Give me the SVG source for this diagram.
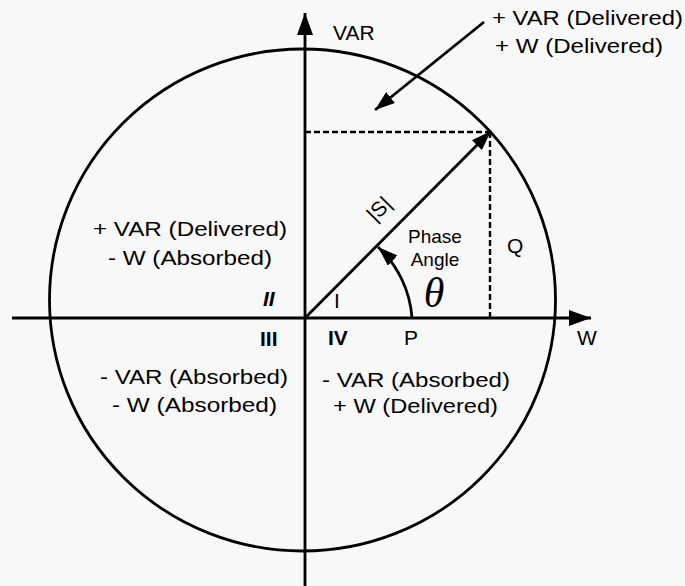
<svg xmlns="http://www.w3.org/2000/svg" width="685" height="586" viewBox="0 0 685 586">
<style>
.ln{stroke:#000;stroke-width:2.8;fill:none}
.dash{stroke:#000;stroke-width:2.4;fill:none;stroke-dasharray:6 3}
.t{font-family:"Liberation Sans",Arial,sans-serif;font-size:21px;fill:#000}
.s{font-size:19px}
.b{font-weight:bold}
</style>
<defs>
<marker id="ah" markerUnits="userSpaceOnUse" markerWidth="24" markerHeight="16" refX="22" refY="8" orient="auto">
<path d="M0,0 L22,8 L0,16 Z" fill="#000"/>
</marker>
<marker id="ahs" markerUnits="userSpaceOnUse" markerWidth="22" markerHeight="14" refX="20" refY="7" orient="auto">
<path d="M0,0 L20,7 L0,14 Z" fill="#000"/>
</marker>
</defs>
<rect width="685" height="586" fill="#f8f8f8"/>
<g id="circle"><ellipse cx="302.5" cy="300" rx="253" ry="251" class="ln"/></g>
<g id="connectors">
<line id="axis-w" x1="12" y1="318" x2="591" y2="318" class="ln" marker-end="url(#ah)"/>
<line id="axis-var" x1="305" y1="586" x2="305" y2="13" class="ln" marker-end="url(#ah)"/>
<line id="vector-s" x1="305" y1="318" x2="491" y2="131" class="ln" marker-end="url(#ahs)"/>
<line id="dash-h" x1="305" y1="132" x2="490" y2="132" class="dash"/>
<line id="dash-v" x1="490" y1="132" x2="490" y2="318" class="dash"/>
<path id="phase-arc" d="M412,318 A107,107 0 0 0 378,247" class="ln" marker-end="url(#ahs)"/>
<line id="pointer" x1="484" y1="22" x2="375" y2="110" class="ln" stroke-width="2.2" marker-end="url(#ahs)"/>
</g>
<g id="label-var"><text x="333" y="40" class="t">VAR</text></g>
<g id="label-w"><text x="577" y="345" class="t">W</text></g>
<g id="label-q1"><text x="492" y="25" class="t" textLength="191" lengthAdjust="spacingAndGlyphs">+ VAR (Delivered)</text><text x="495" y="53" class="t" textLength="168" lengthAdjust="spacingAndGlyphs">+ W (Delivered)</text></g>
<g id="label-q2"><text x="93" y="236" class="t" textLength="194" lengthAdjust="spacingAndGlyphs">+ VAR (Delivered)</text><text x="108" y="265" class="t" textLength="164" lengthAdjust="spacingAndGlyphs">- W (Absorbed)</text></g>
<g id="label-q3"><text x="100" y="384" class="t" textLength="188" lengthAdjust="spacingAndGlyphs">- VAR (Absorbed)</text><text x="112" y="412" class="t" textLength="165" lengthAdjust="spacingAndGlyphs">- W (Absorbed)</text></g>
<g id="label-q4"><text x="322" y="387" class="t" textLength="188" lengthAdjust="spacingAndGlyphs">- VAR (Absorbed)</text><text x="333" y="413" class="t" textLength="165" lengthAdjust="spacingAndGlyphs">+ W (Delivered)</text></g>
<g id="roman">
<text x="263" y="306" class="t b" font-style="italic" font-size="18">II</text>
<text x="260" y="346" class="t b" font-size="18">III</text>
<text x="334" y="308" class="t" font-size="19">I</text>
<text x="328" y="345" class="t b" font-size="19">IV</text>
</g>
<g id="label-p"><text x="404" y="345" class="t">P</text></g>
<g id="label-q"><text x="507" y="253" class="t">Q</text></g>
<g id="label-s"><text x="384" y="214" class="t" font-size="21" text-anchor="middle" transform="rotate(-45 384 214)">|S|</text></g>
<g id="label-phase"><text x="435" y="243" class="t s" text-anchor="middle">Phase</text><text x="435" y="266" class="t s" text-anchor="middle">Angle</text></g>
<g id="label-theta"><text x="434" y="307" font-family="Liberation Serif,'Times New Roman',serif" font-style="italic" font-size="42" text-anchor="middle">θ</text></g>
</svg>
